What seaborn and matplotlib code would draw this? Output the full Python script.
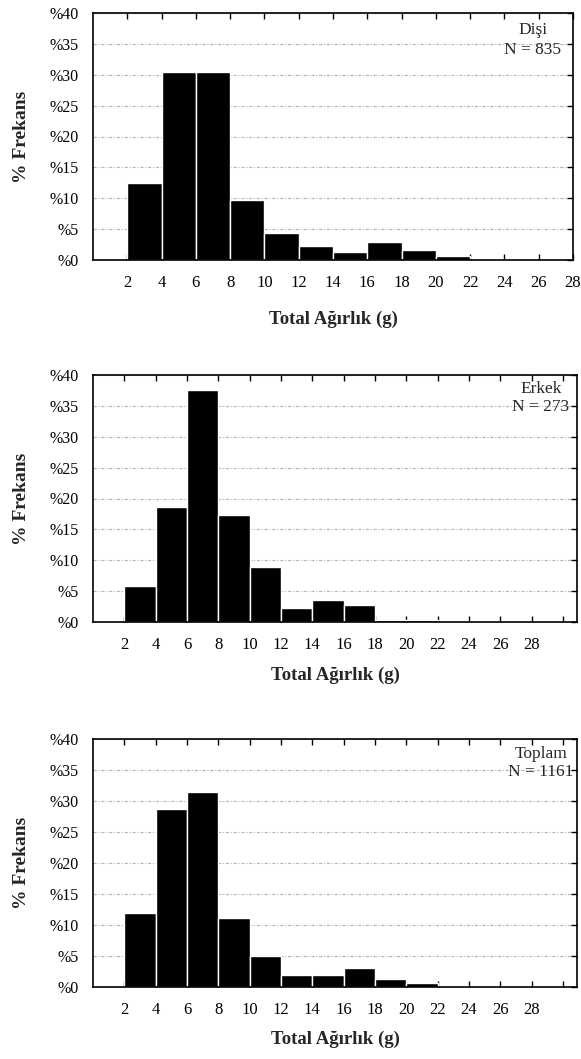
import matplotlib
matplotlib.use("Agg")
import matplotlib.pyplot as plt
import seaborn as sns
import numpy as np

sns.set_style("white")
plt.rcParams['font.family'] = ['Liberation Serif', 'DejaVu Serif']

# ---- data ----
bin_edges = [2, 4, 6, 8, 10, 12, 14, 16, 18, 20, 22]
disi = [12.5, 30.5, 30.5, 9.7, 4.4, 2.3, 1.3, 2.9, 1.7, 0.7]
erkek = [5.8, 18.6, 37.6, 17.3, 8.9, 2.2, 3.5, 2.7, 0.3, 0.3]
toplam = [11.9, 28.7, 31.4, 11.2, 5.0, 1.9, 1.9, 3.0, 1.35, 0.65]
group_names = ["Dişi", "Erkek", "Toplam"]
group_n = [835, 273, 1161]
y_ticks = [0, 5, 10, 15, 20, 25, 30, 35, 40]
y_tick_labels = ["%0", "%5", "%10", "%15", "%20", "%25", "%30", "%35", "%40"]
x_ticks_top = list(range(2, 29, 2))
x_labels_top = [str(v) for v in x_ticks_top]
x_ticks_other = list(range(2, 31, 2))
x_labels_other = [str(v) for v in range(2, 29, 2)] + [""]
x_label = "Total Ağırlık (g)"
y_label = "% Frekans"

W, H = 581, 1059
fig = plt.figure(figsize=(W / 100, H / 100), dpi=100)

# axes boxes in pixels: left, right, top, bottom
boxes = [(93, 573, 13, 260), (93, 577, 375, 622), (93, 577, 739, 987)]
xlims = [(0, 28), (0, 30.9), (0, 30.9)]
series = [disi, erkek, toplam]
text_x = [533, 541, 541]
text_y = [22, 381, 746]
line_sp = [1.35, 1.15, 1.15]
label_pads = [14, 10, 9]

for i in range(3):
    l, r, t, b = boxes[i]
    ax = fig.add_axes([l / W, 1 - b / H, (r - l) / W, (b - t) / H])
    mids = [(bin_edges[k] + bin_edges[k + 1]) / 2 for k in range(len(bin_edges) - 1)]
    sns.histplot(x=mids, weights=series[i], bins=bin_edges, stat="count",
                 color="black", alpha=1.0, edgecolor="white", linewidth=1.0,
                 ax=ax, zorder=3)
    ax.set_xlim(*xlims[i])
    ax.set_ylim(0, 40)
    ax.set_yticks(y_ticks)
    ax.set_yticklabels(y_tick_labels, fontsize=11.5)
    if i == 0:
        ax.set_xticks(x_ticks_top)
        ax.set_xticklabels(x_labels_top, fontsize=12)
    else:
        ax.set_xticks(x_ticks_other)
        ax.set_xticklabels(x_labels_other, fontsize=12)
    ax.yaxis.grid(True, color="#b4b4b4", linestyle=(0, (3, 1.5, 1, 1.5)), linewidth=0.8, zorder=1)
    ax.xaxis.grid(False)
    ax.set_axisbelow(True)
    for s in ax.spines.values():
        s.set_visible(True)
        s.set_color("black")
        s.set_linewidth(1.2)
        s.set_zorder(5)
    ax.tick_params(axis="x", direction="in", length=4, width=1, top=True, bottom=True,
                   pad=11, colors="black")
    ax.tick_params(axis="y", direction="in", length=4, width=1, left=False, right=True,
                   pad=10, colors="black")
    ax.set_xlabel(x_label, fontsize=13.5, fontweight="bold", labelpad=label_pads[i])
    ax.set_ylabel(y_label, fontsize=14, fontweight="bold", labelpad=14)
    ax.text(text_x[i] / W, 1 - text_y[i] / H, f"{group_names[i]}\nN = {group_n[i]}",
            transform=fig.transFigure, ha="center", va="top", fontsize=12.5,
            multialignment="center", linespacing=line_sp[i])

fig.savefig("out.png", dpi=100)
